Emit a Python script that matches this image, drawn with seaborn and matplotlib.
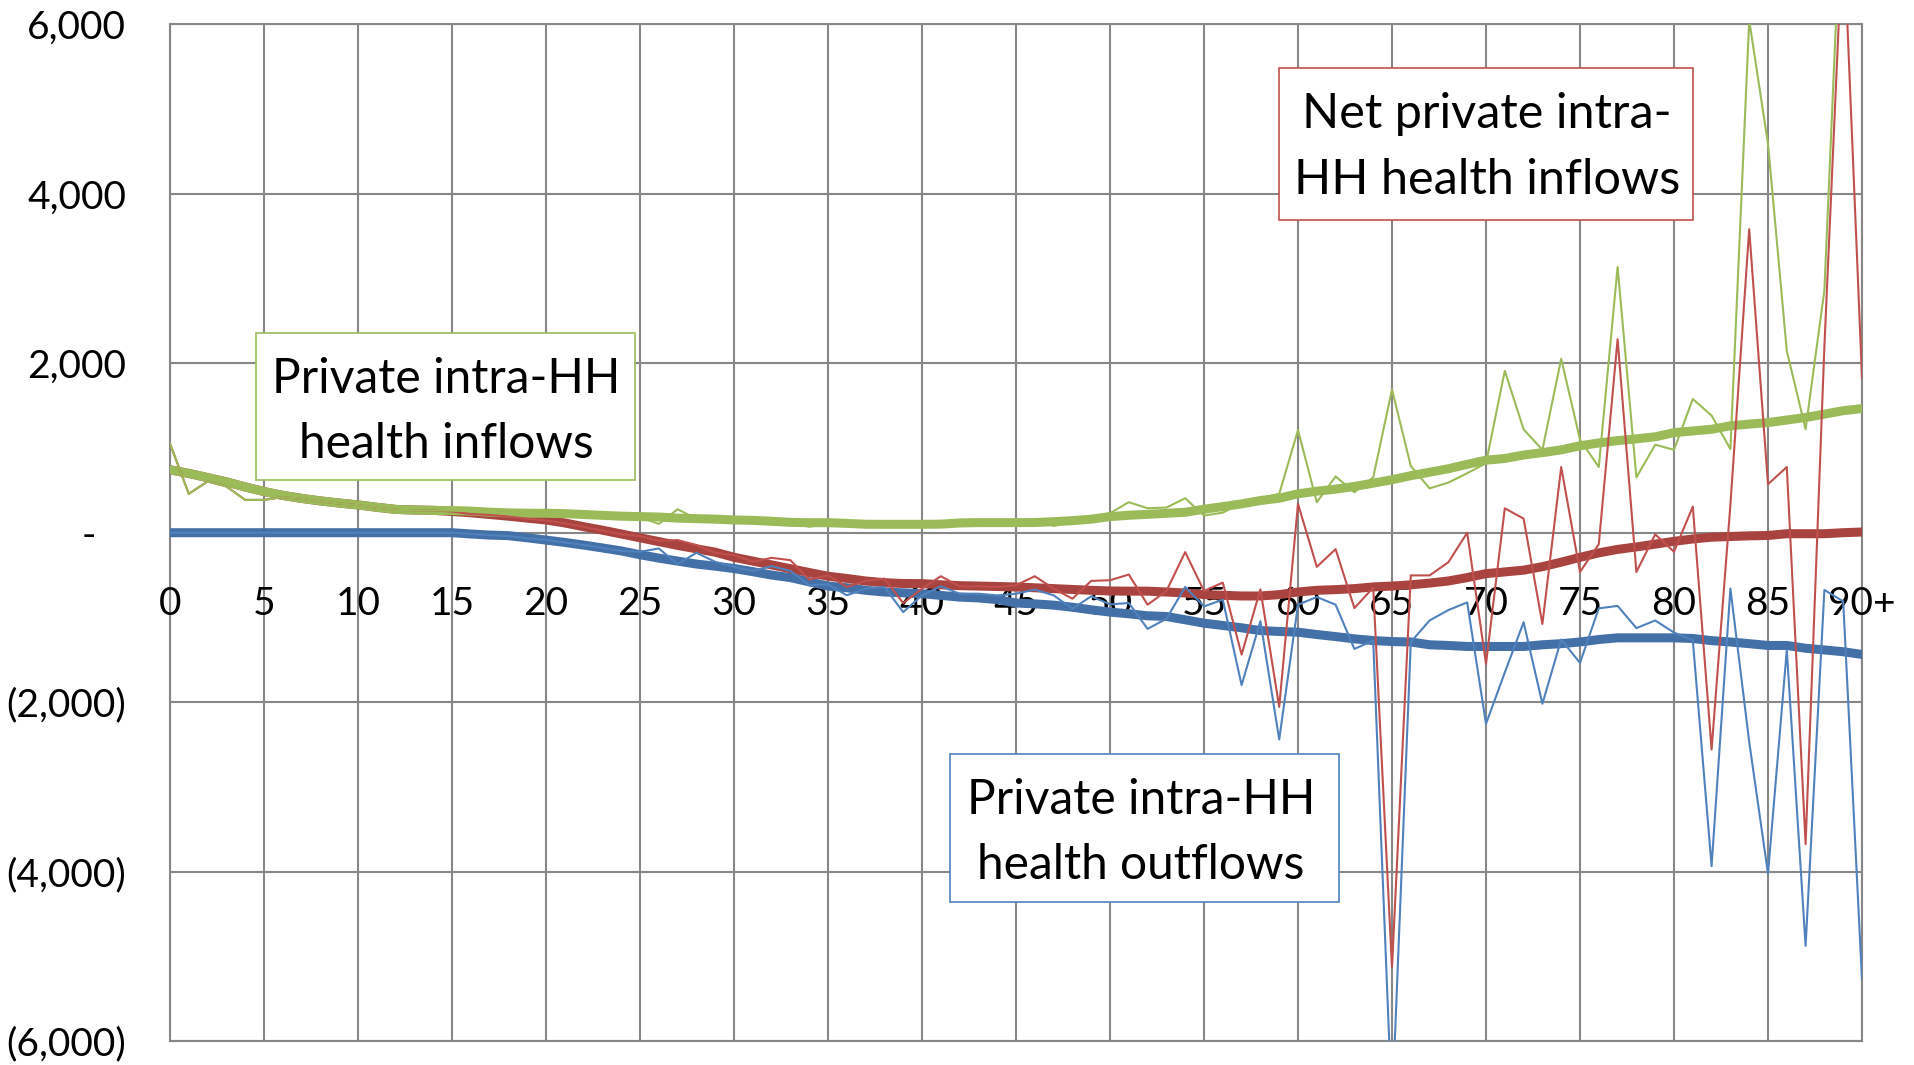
import numpy as np
import pandas as pd
import seaborn as sns
import matplotlib.pyplot as plt
from matplotlib.patches import Rectangle

ages = list(range(91))
x_tick_ages = list(range(0, 91, 5))
x_tick_labels = [str(a) for a in range(0, 90, 5)] + ['90+']
y_ticks = [-6000, -4000, -2000, 0, 2000, 4000, 6000]
y_tick_labels = ['(6,000)', '(4,000)', '(2,000)', '-   ', '2,000', '4,000', '6,000']

# raw single-age values
inflows_raw = [
    1052, 459, 605, 546, 387, 387, 420, 400, 370, 345,
    325, 295, 270, 265, 262, 260, 255, 240, 232, 230,
    229, 225, 215, 205, 195, 185, 103, 277, 165, 160,
    150, 110, 100, 125, 70, 105, 98, 92, 100, 105,
    80, 120, 88, 88, 98, 100, 158, 80, 120, 180,
    230, 360, 289, 297, 407, 202, 237, 348, 407, 459,
    1210, 360, 664, 478, 652, 1690, 787, 523, 592, 702,
    820, 1911, 1221, 978, 2053, 1099, 775, 3136, 653, 1039,
    978, 1578, 1383, 986, 6050, 4588, 2146, 1221, 2864, 8000,
    7100]
outflows_raw = [
    0, 0, 0, 0, 0, 0, 0, 0, 0, 0,
    0, 0, 0, 0, 0, 0, -15, -28, -40, -65,
    -85, -115, -145, -180, -215, -225, -186, -372, -237, -344,
    -403, -451, -395, -451, -621, -609, -739, -660, -641, -937,
    -739, -633, -720, -720, -740, -720, -672, -739, -898, -751,
    -846, -830, -1135, -1016, -640, -870, -791, -1799, -1044, -2440,
    -850, -759, -850, -1372, -1273, -6820, -1290, -1036, -913, -823,
    -2256, -1650, -1057, -2019, -1261, -1536, -893, -864, -1126, -1036,
    -1179, -1269, -3935, -659, -2469, -4025, -1384, -4877, -676, -811,
    -5274]
net_raw = [
    1052, 459, 605, 546, 387, 387, 420, 400, 370, 345,
    325, 295, 270, 265, 262, 250, 220, 210, 190, 165,
    145, 110, 70, 25, -20, -40, -95, -87, -146, -237,
    -265, -344, -297, -324, -554, -502, -641, -569, -542, -830,
    -660, -514, -633, -633, -641, -621, -514, -660, -779, -569,
    -561, -494, -850, -688, -229, -688, -589, -1439, -668, -2056,
    340, -403, -194, -890, -648, -5131, -504, -504, -348, 0,
    -1548, 288, 166, -1077, 775, -463, -135, 2284, -463, -20,
    -225, 308, -2559, 330, 3582, 572, 775, -3677, 2200, 7200,
    1830]

# smoothed values
inflows_trend = [
    743, 700, 650, 600, 540, 486, 440, 405, 375, 350,
    328, 300, 275, 268, 264, 261, 255, 242, 234, 230,
    229, 225, 215, 205, 195, 190, 185, 172, 166, 160,
    150, 146, 135, 122, 118, 118, 110, 100, 99, 99,
    99, 101, 115, 119, 119, 119, 120, 130, 142, 160,
    190, 206, 217, 229, 241, 277, 308, 340, 380, 407,
    459, 490, 514, 546, 585, 625, 673, 714, 755, 807,
    856, 876, 917, 945, 978, 1026, 1059, 1087, 1108, 1132,
    1181, 1201, 1221, 1262, 1282, 1300, 1330, 1360, 1400, 1440,
    1465]
outflows_trend = [
    0, 0, 0, 0, 0, 0, 0, 0, 0, 0,
    0, 0, 0, 0, 0, 0, -15, -28, -35, -60,
    -87, -115, -146, -180, -215, -260, -300, -335, -370, -395,
    -423, -460, -500, -530, -580, -630, -650, -680, -700, -710,
    -720, -740, -760, -770, -790, -830, -840, -855, -880, -910,
    -937, -957, -981, -989, -1028, -1068, -1095, -1123, -1155, -1166,
    -1174, -1202, -1226, -1253, -1273, -1285, -1290, -1323, -1331, -1343,
    -1343, -1343, -1343, -1323, -1310, -1290, -1261, -1241, -1241, -1241,
    -1241, -1249, -1274, -1290, -1310, -1331, -1331, -1364, -1384, -1405,
    -1437]
net_trend = [
    743, 700, 650, 600, 540, 486, 440, 405, 375, 350,
    328, 300, 275, 268, 264, 250, 235, 215, 195, 172,
    150, 115, 71, 30, -15, -60, -105, -150, -190, -230,
    -290, -335, -380, -425, -470, -514, -540, -570, -590, -600,
    -601, -615, -625, -630, -635, -641, -650, -660, -670, -680,
    -688, -690, -690, -700, -712, -730, -739, -747, -747, -731,
    -700, -680, -672, -660, -640, -630, -615, -595, -570, -530,
    -483, -463, -442, -401, -348, -291, -238, -197, -168, -135,
    -102, -74, -53, -45, -37, -33, -12, -12, -12, 0,
    8]

GREEN, GREEN_DARK = '#9BBB59', '#9BBB59'
RED, RED_DARK = '#C0504D', '#A9433F'
BLUE, BLUE_DARK = '#4F81BD', '#4470A8'
GRID = '#878787'

sns.set_theme(style='white')
plt.rcParams['font.family'] = ['Lato', 'DejaVu Sans']

W, H = 1914, 1065
fig = plt.figure(figsize=(W / 100, H / 100), dpi=100)
ax = fig.add_axes([170 / W, 1 - 1041 / H, (1862 - 170) / W, (1041 - 24.4) / H])

df = pd.DataFrame({'age': ages,
                   'in_raw': inflows_raw, 'out_raw': outflows_raw, 'net_raw': net_raw,
                   'in_tr': inflows_trend, 'out_tr': outflows_trend, 'net_tr': net_trend})

# thick trend lines first, thin single-age lines on top
sns.lineplot(data=df, x='age', y='out_tr', ax=ax, color=BLUE_DARK, lw=6.5, zorder=4)
sns.lineplot(data=df, x='age', y='net_tr', ax=ax, color=RED_DARK, lw=6.5, zorder=5)
sns.lineplot(data=df, x='age', y='in_tr', ax=ax, color=GREEN_DARK, lw=6.5, zorder=6)
sns.lineplot(data=df, x='age', y='out_raw', ax=ax, color=BLUE, lw=1.5, zorder=7)
sns.lineplot(data=df, x='age', y='net_raw', ax=ax, color=RED, lw=1.5, zorder=8)
sns.lineplot(data=df, x='age', y='in_raw', ax=ax, color=GREEN, lw=1.5, zorder=9)

ax.set_xlim(0, 90)
ax.set_ylim(-6000, 6000)
ax.set_xlabel('')
ax.set_ylabel('')
ax.set_xticks(x_tick_ages)
ax.set_yticks(y_ticks)
ax.set_yticklabels(y_tick_labels)
ax.tick_params(axis='x', length=0, labelbottom=False)
ax.tick_params(axis='y', length=8.6, width=1.5, color=GRID, pad=23, labelsize=28, labelcolor='black')
ax.grid(True, color=GRID, lw=1.5, zorder=1)
ax.set_axisbelow(True)
for s in ax.spines.values():
    s.set_color(GRID)
    s.set_linewidth(1.5)

for a, lab in zip(x_tick_ages, x_tick_labels):
    ax.annotate(lab, xy=(a, 0), xytext=(0, -82), textcoords='offset pixels',
                ha='center', va='baseline', fontsize=28, color='black', zorder=3)


def label_box(x0, y0, x1, y1, color, lines, baselines, cx, size):
    ax.add_patch(Rectangle((x0 / W, 1 - y1 / H), (x1 - x0) / W, (y1 - y0) / H,
                           transform=fig.transFigure, facecolor='white', edgecolor=color,
                           lw=1.2, zorder=20, clip_on=False))
    for txt, b in zip(lines, baselines):
        ax.text(cx / W, 1 - b / H, txt, transform=fig.transFigure, ha='center', va='baseline',
                fontsize=size, color='black', zorder=21)


label_box(256, 333, 635, 480, GREEN, ['Private intra-HH', 'health inflows'], [393, 458], 446, 34.5)
label_box(950, 754, 1339, 902, BLUE, ['Private intra-HH', 'health outflows'], [814, 879], 1141, 34.5)
label_box(1279, 68, 1693, 220, RED, ['Net private intra-', 'HH health inflows'], [128, 194], 1487, 35)

fig.savefig('out.png', dpi=100)
